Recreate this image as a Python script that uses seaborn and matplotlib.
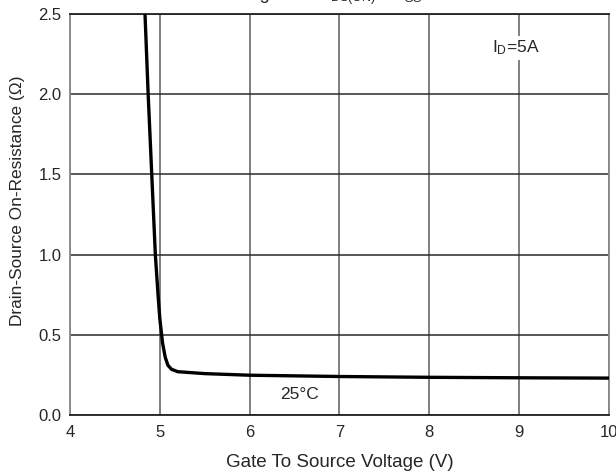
import matplotlib
matplotlib.use("Agg")
import matplotlib.pyplot as plt
import seaborn as sns
import pandas as pd

vgs = [4.835, 4.87, 4.91, 4.95, 4.98, 5.0, 5.03, 5.06, 5.09, 5.13, 5.2, 5.5, 6.0, 7.0, 8.0, 9.0, 10.0]
rds = [2.5, 2.0, 1.5, 1.0, 0.75, 0.6, 0.45, 0.36, 0.31, 0.285, 0.27, 0.258, 0.248, 0.24, 0.235, 0.232, 0.23]
xticks = [4, 5, 6, 7, 8, 9, 10]
yticks = [0.0, 0.5, 1.0, 1.5, 2.0, 2.5]

sns.set_style("white")
plt.rcParams['font.family'] = ['Liberation Sans', 'DejaVu Sans']
plt.rcParams['mathtext.fontset'] = 'custom'
plt.rcParams['mathtext.rm'] = 'Liberation Sans'
plt.rcParams['mathtext.it'] = 'Liberation Sans'
plt.rcParams['mathtext.default'] = 'regular'

W, H = 616, 475
fig = plt.figure(figsize=(W / 100, H / 100), dpi=100)
ax = fig.add_axes([70 / W, (H - 415) / H, 539 / W, 401 / H])

df = pd.DataFrame({"vgs": vgs, "rds": rds})
sns.lineplot(data=df, x="vgs", y="rds", ax=ax, color="black", linewidth=2.4, sort=False, zorder=5)

ax.set_xlim(4, 10)
ax.set_ylim(0, 2.5)
ax.set_xticks(xticks)
ax.set_yticks(yticks)
ax.set_xticklabels([str(t) for t in xticks], fontsize=12)
ax.set_yticklabels([f"{t:.1f}" for t in yticks], fontsize=12)
ax.xaxis.grid(True, color="#6a6a6a", linewidth=1.2)
ax.yaxis.grid(True, color="#2a2a2a", linewidth=1.1)
ax.set_axisbelow(True)
ax.tick_params(axis="x", length=0, pad=7)
ax.tick_params(axis="y", length=0, pad=6)
ax.spines['top'].set_color("#222222")
ax.spines['bottom'].set_color("#222222")
ax.spines['left'].set_color("#888888")
ax.spines['right'].set_color("#888888")
for s in ax.spines.values():
    s.set_linewidth(1.3)

ax.set_xlabel("Gate To Source Voltage (V)", fontsize=13.5, labelpad=10)
ax.set_ylabel("Drain-Source On-Resistance (\u03a9)", fontsize=12.4)
ax.yaxis.set_label_coords(-45 / 539, (415 - 201) / 401)

ax.text(8.70, 2.29, "I$_{D}$=5A", fontsize=12.5, ha="left", va="center", zorder=4,
        bbox=dict(facecolor="white", edgecolor="none", pad=2))
ax.text(6.56, 0.125, "25\u00b0C", fontsize=12.5, ha="center", va="center")

ty = 1 + 1 / H
fig.text(270 / W, ty, "On-Resistance Testing", fontsize=13, ha="right", va="baseline")
fig.text(376 / W, ty, "with R$_{DS(ON)}$", fontsize=13, ha="right", va="baseline")
fig.text(423 / W, ty, "vs V$_{GS}$", fontsize=13, ha="right", va="baseline")

fig.savefig("out.png", dpi=100)
